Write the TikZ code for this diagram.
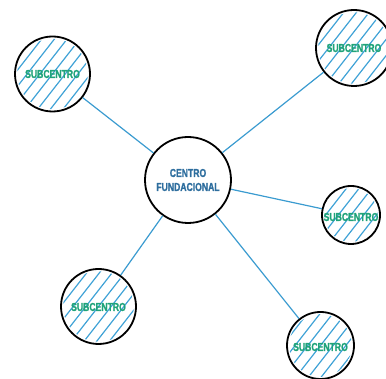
\documentclass[tikz,border=0pt]{standalone}
\usepackage{fontspec}
\newfontfamily\condbold[FakeStretch=0.75, FakeBold=1.2]{Liberation Sans Bold}
\definecolor{linkblue}{HTML}{3A9BD0}
\definecolor{hatchblue}{HTML}{3FA2D6}
\definecolor{subgreen}{HTML}{1FA37A}
\definecolor{mainblue}{HTML}{2E6E9E}
\tikzset{
  ring/.style={circle, draw=black, line width=1.8pt, inner sep=0pt},
  link/.style={draw=linkblue, line width=1.2pt},
  hatchline/.style={draw=hatchblue, line width=1.2pt, line cap=round},
  sublabel/.style={text=subgreen, font=\condbold\fontsize{11.5}{12}\selectfont, inner sep=0pt},
  mainlabel/.style={text=mainblue, font=\condbold\fontsize{11.5}{14}\selectfont, align=center, inner sep=0pt}
}
% diagonal hatching inside a disc: centre x, centre y, radius
\newcommand\hatchdisk[3]{%
  \begin{scope}[shift={(#1,#2)}, rotate=52]
    \clip (0,0) circle (#3-2.2);
    \foreach \k in {-60,-50,...,60}
      \draw[hatchline] (-#3,\k) -- (#3,\k);
  \end{scope}}
\begin{document}
\begin{tikzpicture}[x=1pt, y=1pt]
  \useasboundingbox (0,0) rectangle (386,379);

  % hatching of the sub-centres
  \hatchdisk{52.5}{305}{37.5}
  \hatchdisk{354}{331}{38}
  \hatchdisk{351}{164}{29}
  \hatchdisk{98.5}{72.5}{37.5}
  \hatchdisk{320.5}{33.5}{33.5}

  % circles
  \node[ring, minimum size=86pt] (c) at (188,199) {};
  \node[ring, minimum size=75pt] (s1) at (52.5,305) {};
  \node[ring, minimum size=76pt] (s2) at (354,331) {};
  \node[ring, minimum size=58pt] (s3) at (351,164) {};
  \node[ring, minimum size=75pt] (s4) at (98.5,72.5) {};
  \node[ring, minimum size=67pt] (s5) at (320.5,33.5) {};

  % connectors
  \foreach \s in {s1,s2,s3,s4,s5}
    \draw[link] (c) -- (\s);

  % labels
  \node[mainlabel] (lc) at (188,199) {CENTRO\\FUNDACIONAL};
  \node[sublabel] (l1) at (52.5,305) {SUBCENTRO};
  \node[sublabel] (l2) at (354,331) {SUBCENTRO};
  \node[sublabel] (l3) at (351,162) {SUBCENTRO};
  \node[sublabel] (l4) at (98.5,72) {SUBCENTRO};
  \node[sublabel] (l5) at (320.5,32) {SUBCENTRO};
\end{tikzpicture}
\end{document}
